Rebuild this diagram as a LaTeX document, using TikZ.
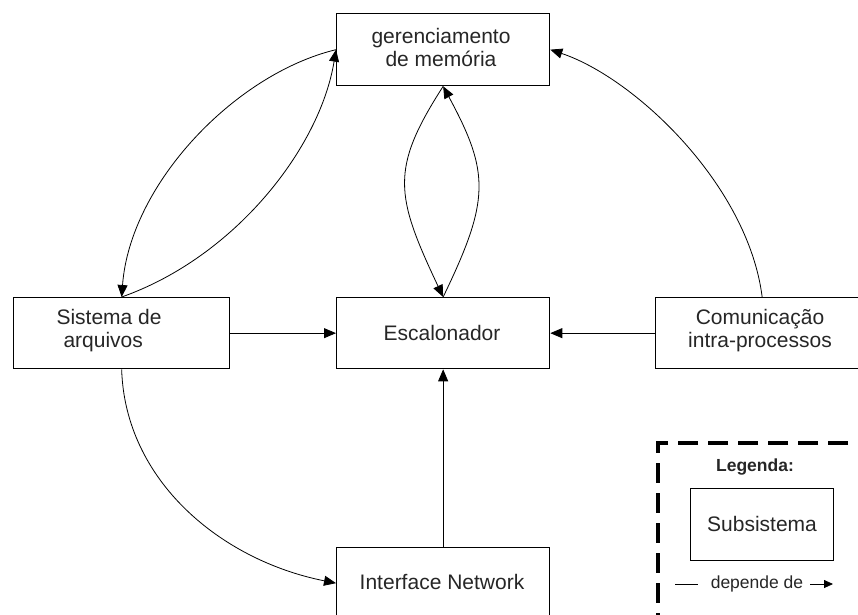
\documentclass[tikz,border=0pt]{standalone}
\usepackage{fontspec}
\setmainfont{Liberation Sans}
\usetikzlibrary{arrows.meta}
\begin{document}
\begin{tikzpicture}[x=1pt,y=-1pt,
  box/.style={draw, line width=1.3pt, minimum width=213pt, minimum height=71pt,
              inner sep=0pt, anchor=north west},
  lbl/.style={font=\fontsize{21}{23}\selectfont, align=center, text=black!85},
  small/.style={font=\fontsize{17.5}{20}\selectfont, text=black!85},
  dep/.style={-{Triangle[length=12pt,width=10pt]}, line width=0.8pt},
  ]
\useasboundingbox (0,0) rectangle (858,614);

% subsystem boxes
\node[box, minimum height=72pt] (ger) at (336,13) {};
\node[box, minimum width=216pt] (sis) at (13,297) {};
\node[box] (esc) at (336,297) {};
\node[box] (com) at (655,297) {};
\node[box] (int) at (336,547) {};

% box labels
\node[lbl] (gerlbl) at (441,47) {gerenciamento\\de memória};
\node[lbl, align=left, anchor=west] (sislbl) at (53,331) {Sistema de\\\hspace*{7pt}arquivos};
\node[lbl] (esclbl) at (442,333) {Escalonador};
\node[lbl] (comlbl) at (760,331) {Comunicação\\intra-processos};
\node[lbl] (intlbl) at (442,582) {Interface Network};

% dependencies
\draw[dep] (ger.west) .. controls (235,74) and (130,184) .. (sis.north);
\draw[dep] (sis.north) .. controls (235,257) and (320,148) .. (ger.west);
\draw[dep] (ger.south) .. controls (390,169) and (395,195) .. (esc.north);
\draw[dep] (esc.north) .. controls (490,200) and (490,173) .. (ger.south);
\draw[dep] (sis.east) -- (esc.west);
\draw[dep] (com.west) -- (esc.east);
\draw[dep] (com.north) .. controls (748,185) and (635,78) .. (ger.east);
\draw[dep] (int.north) -- (esc.south);
\draw[dep] (sis.south) .. controls (125,480) and (220,560) .. (int.west);

% legend
\node[draw, line width=4pt, dash pattern=on 20pt off 10pt, minimum width=240pt,
      minimum height=220pt, inner sep=0pt, anchor=north west] (legend) at (656,441) {};
\node[small, font=\bfseries\fontsize{17.5}{20}\selectfont] (legtitle) at (755,467) {Legenda:};
\node[draw, line width=1.3pt, minimum width=143pt, minimum height=72pt,
      inner sep=0pt, anchor=north west] (legbox) at (690,488) {};
\node[lbl] (leglbl) at (762,524) {Subsistema};
\node[small] (legdep) at (757,584) {depende de};
\coordinate (la) at (675,584);
\coordinate (lb) at (698,584);
\coordinate (lc) at (810,584);
\coordinate (ld) at (833,584);
\draw[line width=0.8pt] (la) -- (lb);
\draw[line width=0.8pt, -{Triangle[length=9pt,width=8pt]}] (lc) -- (ld);
\end{tikzpicture}
\end{document}
